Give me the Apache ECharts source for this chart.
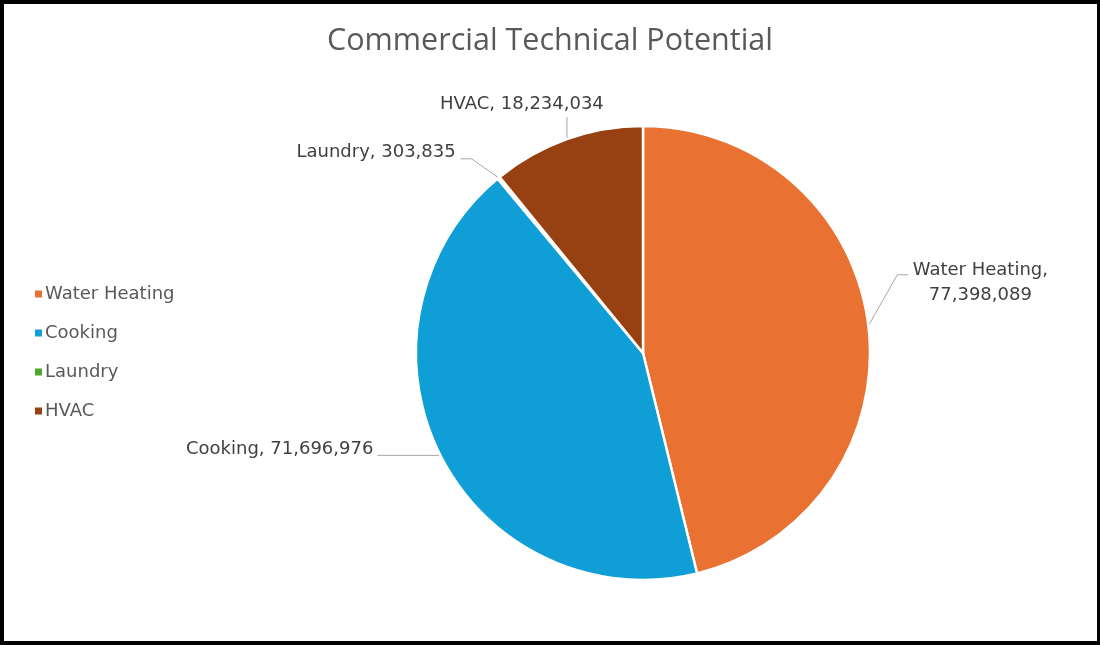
<!DOCTYPE html>
<html>
<head>
<meta charset="utf-8">
<script src="https://cdn.jsdelivr.net/npm/echarts@6/dist/echarts.min.js"></script>
<style>
html,body{margin:0;padding:0;background:#fff;}
#chart{position:absolute;left:0;top:0;width:1100px;height:645px;}
#frame{position:absolute;left:0;top:0;width:1100px;height:645px;box-sizing:border-box;border-style:solid;border-color:#000;border-width:4px 3px 4px 4px;pointer-events:none;}
</style>
</head>
<body>
<div id="chart"></div>
<div id="frame"></div>
<script>
const title = 'Commercial Technical Potential';
const categories = ['Water Heating', 'Cooking', 'Laundry', 'HVAC'];
const values = [77398089, 71696976, 303835, 18234034];
const colors = ['#E97132', '#0F9ED5', '#4EA72E', '#974011'];

const fmt = v => v.toLocaleString('en-US');
const TFONT = 'Open Sans';
const FONT = 'DejaVu Sans';

// label placement offsets relative to the library-computed anchor on the pie edge
const labelCfg = [
  {dx: 112, dy: -43, align: 'center', line: [[29, -51], [40, -51]]},
  {dx: -67, dy: -6, align: 'right', line: [[-63, 0]]},
  {dx: -43, dy: -25, align: 'right', line: [[-27, -19], [-38, -19]]},
  {dx: -45, dy: -35, align: 'center', line: [[0, -22]]}
];

const chart = echarts.init(document.getElementById('chart'));
chart.setOption({
  animation: false,
  title: {
    text: title, left: 'center', top: 21,
    textStyle: {fontFamily: TFONT, fontSize: 30.5, fontWeight: 'normal', color: '#595959'}
  },
  legend: {
    orient: 'vertical', left: 28, top: 280,
    itemWidth: 9, itemHeight: 9, itemGap: 21, icon: 'rect',
    data: categories,
    textStyle: {fontFamily: FONT, fontSize: 18, color: '#595959', padding: [0, 0, 0, -3]}
  },
  color: colors,
  series: [{
    type: 'pie',
    center: [643, 353],
    radius: 227,
    startAngle: 90,
    clockwise: true,
    avoidLabelOverlap: false,
    itemStyle: {borderColor: '#fff', borderWidth: 2.5},
    data: categories.map((c, i) => ({name: c, value: values[i]})),
    label: {
      show: true, position: 'outside',
      fontFamily: FONT, fontSize: 18, color: '#404040', lineHeight: 25,
      formatter: p => p.dataIndex === 0 ? p.name + ',\n' + fmt(p.value) : p.name + ', ' + fmt(p.value)
    },
    labelLine: {show: true, length: 10, length2: 10, lineStyle: {color: '#A6A6A6', width: 1}},
    labelLayout: function (params) {
      const cfg = labelCfg[params.dataIndex];
      const a = params.labelLinePoints[0];
      const pts = [[a[0], a[1]]].concat(cfg.line.map(p => [a[0] + p[0], a[1] + p[1]]));
      return {
        x: a[0] + cfg.dx, y: a[1] + cfg.dy,
        align: cfg.align, verticalAlign: 'middle',
        labelLinePoints: pts
      };
    },
    emphasis: {disabled: true}
  }]
});
</script>
</body>
</html>
